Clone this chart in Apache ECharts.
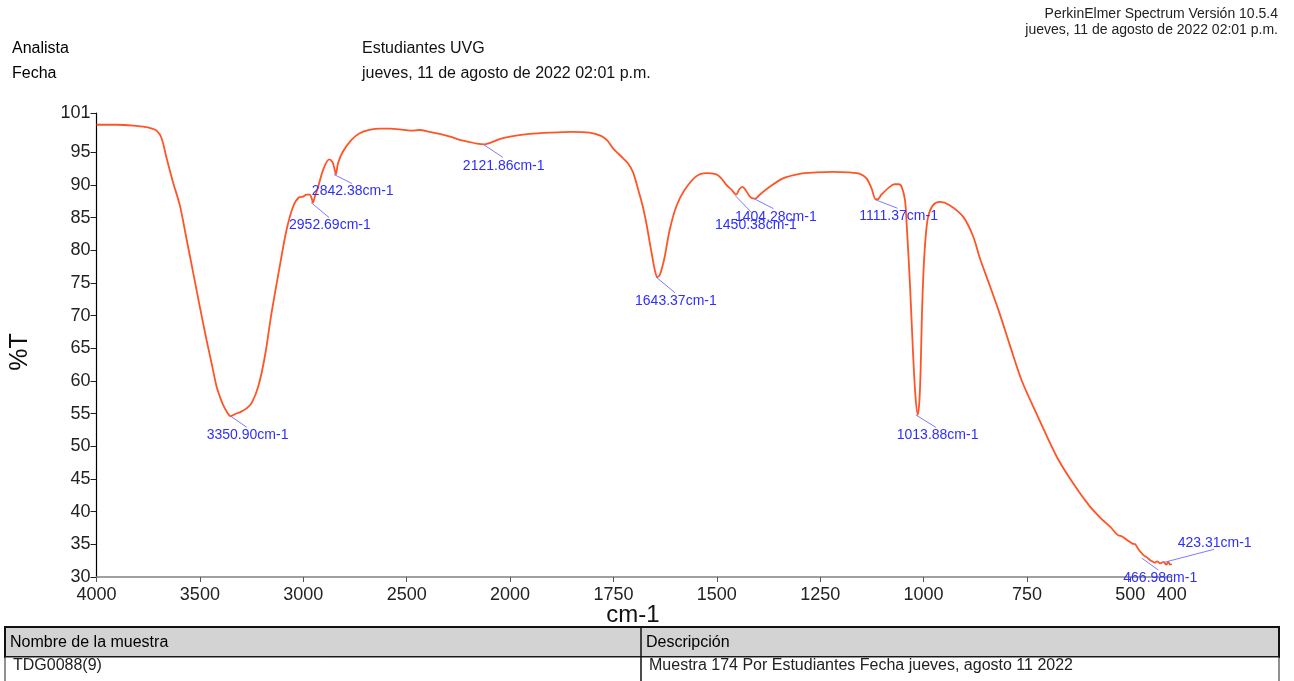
<!DOCTYPE html>
<html>
<head>
<meta charset="utf-8">
<script src="https://cdn.jsdelivr.net/npm/echarts@6/dist/echarts.min.js"></script>
<style>
html,body{margin:0;padding:0;background:#fff;}
#chart{width:1294px;height:681px;}
</style>
</head>
<body>
<div id="chart"></div>
<script>
// ---- data ----
const wavenumbers = [4000,3900,3800,3774,3740,3709,3685,3661,3630,3597,3565,3532,3500,3468,3440,3419,3400,3387,3370,3351,3331,3300,3274,3250,3218,3186,3154,3114,3081,3049,3020,3001,2985,2969,2960,2953,2944,2928,2904,2875,2859,2850,2842,2832,2808,2767,2727,2680,2630,2580,2534,2480,2437,2390,2341,2290,2244,2200,2160,2122,2090,2060,2027,2000,1953,1900,1850,1808,1780,1765,1751,1727,1715,1703,1691,1679,1670,1662,1656,1650,1644,1638,1632,1626,1614,1598,1578,1550,1525,1501,1489,1477,1465,1453,1446,1438,1428,1420,1410,1404,1396,1372,1340,1299,1260,1219,1180,1154,1138,1126,1116,1111,1102,1082,1070,1060,1053,1045,1041,1033,1026,1020,1014,1010,1007,1004,1000,995,989,977,961,937,904,880,864,840,816,791,763,727,678,638,598,570,549,530,520,509,495,488,480,469,460,450,441,435,428,423,420,413,408,404,400];
const transmittance = [99.2,99.2,99.0,98.9,98.7,98.3,97.1,94.1,90.4,86.9,81.8,76.5,71.3,66.3,62.2,59.1,57.3,56.3,55.3,54.6,54.9,55.3,55.8,56.6,59.1,63.7,70.3,77.5,83.1,86.7,88.1,88.2,88.5,88.5,88.0,87.3,88.2,89.7,92.3,93.9,93.5,92.6,91.6,93.3,95.1,96.9,97.9,98.4,98.6,98.6,98.5,98.3,98.4,98.1,97.8,97.4,96.9,96.6,96.3,96.2,96.5,96.9,97.2,97.4,97.8,98.0,98.1,98.0,97.5,96.8,95.6,94.1,93.3,92.0,89.5,86.7,84.0,81.1,79.0,77.0,75.9,76.2,77.4,79.0,83.1,86.7,89.2,91.3,91.8,91.6,91.0,90.0,89.3,88.5,89.3,89.7,89.0,88.2,87.9,88.0,88.5,89.7,91.0,91.7,91.9,92.0,91.9,91.7,91.0,89.5,87.8,87.8,88.5,89.7,90.1,90.1,89.7,87.7,84.1,74.9,65.0,58.0,54.8,57.0,62.0,70.0,77.0,82.0,85.1,86.9,87.4,86.9,85.1,82.1,78.8,74.6,70.3,65.4,60.1,55.0,48.4,44.3,40.8,38.9,37.7,36.4,36.2,35.7,35.1,35.0,34.2,33.4,33.0,32.5,32.2,32.4,32.1,32.2,32.3,31.9,32.3,31.9,32.0];

const peakWavenumbers = [3350.90,2952.69,2842.38,2121.86,1643.37,1450.38,1404.28,1111.37,1013.88,466.98,423.31];
const peakTransmittance = [54.6,87.3,91.6,96.2,75.9,88.5,87.9,87.8,54.8,32.9,32.2];

const xTickLabels = [4000,3500,3000,2500,2000,1750,1500,1250,1000,750,500,400];
const yTickLabels = [30,35,40,45,50,55,60,65,70,75,80,85,90,95,101];

// ---- label layout (pixel offsets from each peak point: leader start, leader end, label anchor) ----
const peakLabelLayout = [
  [0,0,16,11,-24,19],
  [-2,0,16,15,-24,22.5],
  [-2,0,16,9,-24,16.6],
  [-1.5,0,18,13,-22,21.3],
  [-1.5,0,17.5,15.7,-22.5,23.7],
  [-2,1,14.4,18,-22.3,30.3],
  [-2.4,0,17,10,-21.4,18.1],
  [-1.5,0.7,20,9,-18.2,16.7],
  [-2,0,18,12.4,-21.1,20.1],
  [-2.3,0,14.3,12,-20.7,20.3],
  [1,0,52,-13.3,15.6,-19.9]
];

// The instrument axis is linear in two pieces: 4000-2000 compressed, 2000-400 at twice the scale.
function toU(w){ return w >= 2000 ? 4000 - w : 2000 + 2 * (2000 - w); }
function fromU(u){ return u <= 2000 ? 4000 - u : 2000 - (u - 2000) / 2; }

const lineData = wavenumbers.map((w, i) => [toU(w), transmittance[i]]);
const peakData = peakWavenumbers.map((w, i) => [toU(w), peakTransmittance[i], i]);

const FONT = 'Liberation Sans, Arial, sans-serif';
const chart = echarts.init(document.getElementById('chart'), null, {renderer:'canvas'});

const option = {
  animation: false,
  backgroundColor: '#fff',
  grid: {left: 96.5, right: 122.3, top: 113, bottom: 104, containLabel: false},
  xAxis: {
    type: 'value', min: 0, max: 5200,
    axisLine: {show: true, lineStyle: {color: '#808080', width: 1.5}},
    axisTick: {show: true, length: 5, inside: false, customValues: xTickLabels.map(toU), lineStyle: {color: '#555', width: 1}},
    axisLabel: {customValues: xTickLabels.map(toU), formatter: v => String(Math.round(fromU(v))), fontSize: 18, fontFamily: FONT, color: '#222', margin: 9},
    splitLine: {show: false}
  },
  yAxis: {
    type: 'value', min: 30, max: 101,
    axisLine: {show: true, lineStyle: {color: '#000', width: 1.2}},
    axisTick: {show: true, length: 6, customValues: yTickLabels, lineStyle: {color: '#222', width: 1}},
    axisLabel: {customValues: yTickLabels, fontSize: 18, fontFamily: FONT, color: '#222', margin: 6},
    splitLine: {show: false}
  },
  series: [
    {
      type: 'line', data: lineData, showSymbol: false, smooth: 0.3,
      lineStyle: {color: '#ff5426', width: 1.8}, z: 3, silent: true
    },
    {
      type: 'custom', data: peakData, z: 4, clip: false, silent: true,
      renderItem: function(params, api){
        const i = api.value(2);
        const p = api.coord([api.value(0), api.value(1)]);
        const o = peakLabelLayout[i];
        return {
          type: 'group',
          children: [
            {type: 'line', shape: {x1: p[0] + o[0], y1: p[1] + o[1], x2: p[0] + o[2], y2: p[1] + o[3]},
             style: {stroke: '#7c7cff', lineWidth: 1}},
            {type: 'text', style: {text: peakWavenumbers[i].toFixed(2) + 'cm-1', x: p[0] + o[4], y: p[1] + o[5],
             fill: '#2e2eff', fontSize: 14, fontFamily: FONT, align: 'left', verticalAlign: 'middle'}}
          ]
        };
      }
    }
  ],
  graphic: [
    {type: 'text', style: {text: 'PerkinElmer Spectrum Versión 10.5.4', x: 1278, y: 14, align: 'right', verticalAlign: 'middle', fontSize: 14, fontFamily: FONT, fill: '#222'}},
    {type: 'text', style: {text: 'jueves, 11 de agosto de 2022 02:01 p.m.', x: 1278, y: 30, align: 'right', verticalAlign: 'middle', fontSize: 14, fontFamily: FONT, fill: '#222'}},
    {type: 'text', style: {text: 'Analista', x: 12, y: 49, verticalAlign: 'middle', fontSize: 16, fontFamily: FONT, fill: '#000'}},
    {type: 'text', style: {text: 'Fecha', x: 12, y: 74, verticalAlign: 'middle', fontSize: 16, fontFamily: FONT, fill: '#000'}},
    {type: 'text', style: {text: 'Estudiantes UVG', x: 362, y: 49, verticalAlign: 'middle', fontSize: 16, fontFamily: FONT, fill: '#111'}},
    {type: 'text', style: {text: 'jueves, 11 de agosto de 2022 02:01 p.m.', x: 362, y: 74, verticalAlign: 'middle', fontSize: 16, fontFamily: FONT, fill: '#111'}},
    {type: 'text', rotation: Math.PI / 2, x: 20, y: 352, style: {text: '%T', x: 0, y: 0, align: 'center', verticalAlign: 'middle', fontSize: 25, fontFamily: FONT, fill: '#111'}},
    {type: 'text', style: {text: 'cm-1', x: 633, y: 615, align: 'center', verticalAlign: 'middle', fontSize: 24, fontFamily: FONT, fill: '#111'}},
    // table
    {type: 'rect', shape: {x: 5, y: 627, width: 1274, height: 30}, style: {fill: '#d3d3d3', stroke: '#111', lineWidth: 2}},
    {type: 'rect', shape: {x: 5, y: 657, width: 1274, height: 30}, style: {fill: '#fff', stroke: '#222', lineWidth: 1}},
    {type: 'line', shape: {x1: 641, y1: 627, x2: 641, y2: 690}, style: {stroke: '#111', lineWidth: 1.5}},
    {type: 'text', style: {text: 'Nombre de la muestra', x: 10, y: 643, verticalAlign: 'middle', fontSize: 16, fontFamily: FONT, fill: '#000'}},
    {type: 'text', style: {text: 'Descripción', x: 646, y: 643, verticalAlign: 'middle', fontSize: 16, fontFamily: FONT, fill: '#000'}},
    {type: 'text', style: {text: 'TDG0088(9)', x: 13, y: 666, verticalAlign: 'middle', fontSize: 16, fontFamily: FONT, fill: '#222'}},
    {type: 'text', style: {text: 'Muestra 174 Por Estudiantes Fecha jueves, agosto 11 2022', x: 649, y: 666, verticalAlign: 'middle', fontSize: 16, fontFamily: FONT, fill: '#222'}}
  ]
};
chart.setOption(option);
</script>
</body>
</html>
